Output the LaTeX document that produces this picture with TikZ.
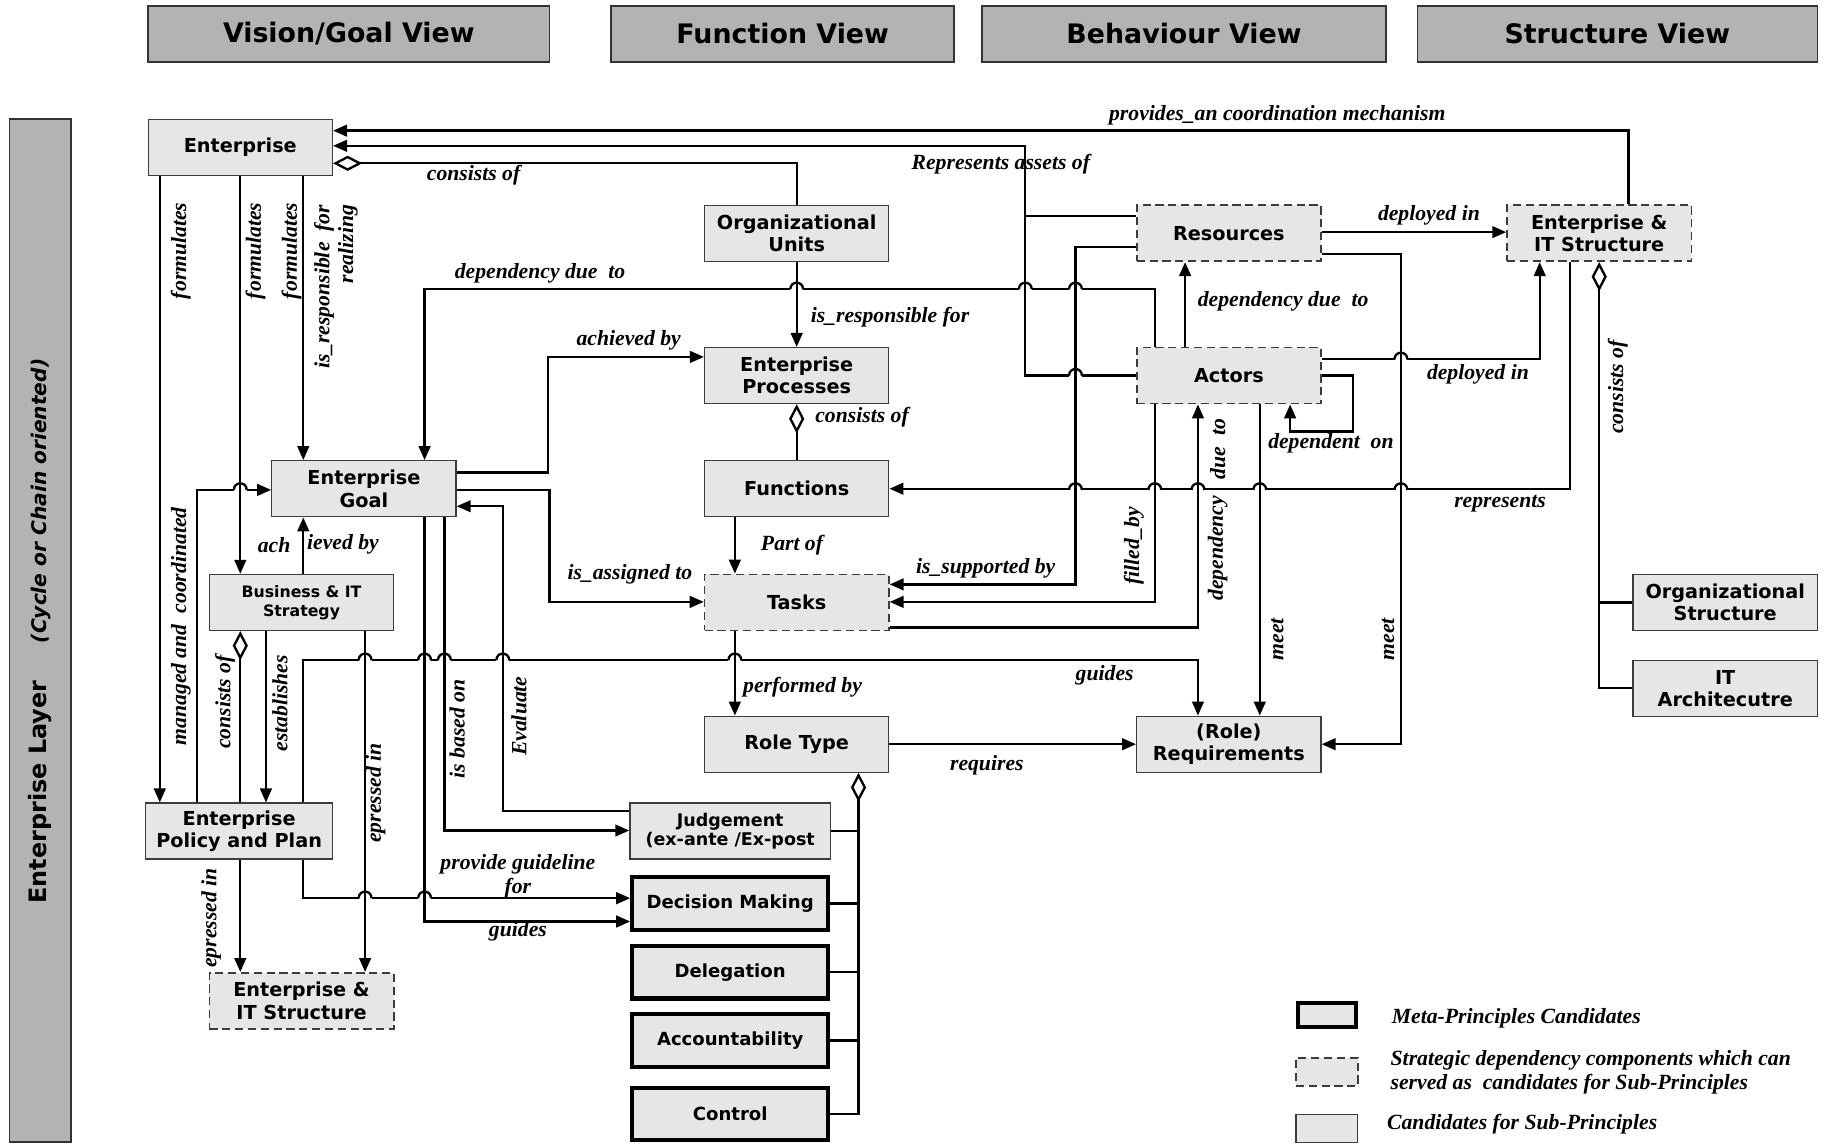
\documentclass[tikz,border=0pt]{standalone}
\usepackage{fontspec}
\setmainfont{Liberation Serif}
\setsansfont{DejaVu Sans}
\usepackage{tikz}
\usetikzlibrary{arrows.meta}
\definecolor{boxGray} {RGB}{230,230,230}
\definecolor{headGray}{RGB}{179,179,179}
\definecolor{edgeGray}{RGB}{60,60,60}

\tikzset{
  box/.style={draw=edgeGray,line width=1.1pt,fill=boxGray,minimum width=158pt,
    minimum height=48pt,inner sep=0pt,align=center,
    font=\sffamily\bfseries\fontsize{16.5}{19}\selectfont},
  dbox/.style={box,dash pattern=on 7pt off 4pt,line width=1.4pt},
  mbox/.style={box,draw=black,line width=3.5pt,minimum width=168pt,minimum height=45pt,
    font=\sffamily\bfseries\fontsize{15.5}{18}\selectfont},
  head/.style={draw=black!80,line width=1.3pt,fill=headGray,minimum height=48pt,
    inner sep=0pt,font=\sffamily\bfseries\fontsize{23}{27}\selectfont},
  lbl/.style={inner sep=0pt,font=\rmfamily\bfseries\itshape\fontsize{18.6}{20.5}\selectfont},
  con/.style={line width=2pt},
  arr/.style={con,-{Triangle[length=12pt,width=10pt]}},
  agg/.style={con,{Diamond[fill=white,length=25pt,width=13pt]}-},
}
% kleine Bruecke, wo eine waagrechte Linie eine senkrechte kreuzt
\newcommand{\linehop}[2]{%
  \fill[white] (#1-5.5,#2-1.7) rectangle (#1+5.5,#2+1.7);
  \draw[con] (#1,#2-4) -- (#1,#2+4);
  \draw[con] (#1-5.5,#2) .. controls (#1-5.5,#2-7.5) and (#1+5.5,#2-7.5) .. (#1+5.5,#2);}

\begin{document}
\begin{tikzpicture}[x=1pt,y=-1pt]
  \useasboundingbox (0,0) rectangle (1568,981);
  % Views
  \node[head,minimum width=344pt] (hvis) at (299,29)    {Vision/Goal View};
  \node[head,minimum width=294pt] (hfun) at (671,29)    {Function View};
  \node[head,minimum width=346pt] (hbeh) at (1015,29)   {Behaviour View};
  \node[head,minimum width=343pt] (hstr) at (1386.5,29) {Structure View};
  % Layer
  \node[draw=black!80,line width=1.3pt,fill=headGray,minimum width=53pt,
        minimum height=877pt] (layer) at (34.5,540.5) {};
  \node[rotate=90,font=\sffamily\bfseries\fontsize{20.5}{24}\selectfont] (layertxt) at (34,541)
    {Enterprise Layer\hspace{32pt}{\itshape\fontsize{17.3}{20}\selectfont(Cycle or Chain oriented)}};

  % Boxes
  \node[box]  (ent)   at (206,126.5)  {Enterprise};
  \node[box]  (orgu)  at (683,200)    {Organizational\\Units};
  \node[dbox] (res)   at (1053.5,200) {Resources};
  \node[dbox] (eits)  at (1371,200)   {Enterprise \&\\IT Structure};
  \node[box]  (proc)  at (683,322)    {Enterprise\\Processes};
  \node[dbox] (act)   at (1053.5,322) {Actors};
  \node[box]  (goal)  at (312,419)    {Enterprise\\Goal};
  \node[box]  (func)  at (683,419)    {Functions};
  \node[box,font=\sffamily\bfseries\fontsize{13.5}{16}\selectfont]
              (strat) at (258.5,516.5) {Business \& IT\\Strategy};
  \node[dbox] (task)  at (683,516.5)  {Tasks};
  \node[box]  (orgs)  at (1479,516.5) {Organizational\\Structure};
  \node[box]  (itar)  at (1479,590)   {IT\\Architecutre};
  \node[box]  (role)  at (683,638)    {Role Type};
  \node[box]  (req)   at (1053.5,638) {(Role)\\Requirements};
  \node[box,minimum width=160pt] (pol) at (205,712.5) {Enterprise\\Policy and Plan};
  \node[box,minimum width=172pt,font=\sffamily\bfseries\fontsize{15}{17}\selectfont]
              (judg)  at (626,712.5)  {Judgement\\(ex-ante /Ex-post};
  \node[mbox] (dec)   at (626,774.5)  {Decision Making};
  \node[mbox] (del)   at (626,833.5)  {Delegation};
  \node[mbox] (acc)   at (626,892)    {Accountability};
  \node[mbox] (ctrl)  at (626,955)    {Control};
  \node[dbox] (eits2) at (258.5,858)  {Enterprise \&\\IT Structure};

  % Connectors
  \draw[arr] (eits.north -| 1396,0) |- (ent.east |- 0,112);
  \draw[arr] (res.west |- 0,185) -| (879,125) -- (ent.east |- 0,125);
  \draw[con] (act.west) -| (879,185);
  \draw[agg] (ent.east |- 0,140) -| (orgu.north);
  \draw[arr] (ent.south -| 137,0) -- (pol.north -| 137,0);
  \draw[arr] (ent.south -| 206,0) -- (strat.north -| 206,0);
  \draw[arr] (ent.south -| 260,0) -- (goal.north -| 260,0);
  \draw[arr] (pol.north -| 169,0) |- (goal.west |- 0,420);
  \draw[arr] (strat.north -| 260,0) -- (goal.south -| 260,0);
  \draw[agg] (strat.south -| 206,0) -- (pol.north -| 206,0);
  \draw[arr] (strat.south -| 228,0) -- (pol.north -| 228,0);
  \draw[arr] (strat.south -| 313,0) -- (eits2.north -| 313,0);
  \draw[arr] (pol.south -| 206,0) -- (eits2.north -| 206,0);
  \draw[arr] (goal.east |- 0,405) -| (470,306) -- (proc.west |- 0,306);
  \draw[arr] (goal.east |- 0,420) -| (471,516) -- (task.west |- 0,516);
  \draw[arr] (judg.west |- 0,695) -| (431,434) -- (goal.east |- 0,434);
  \draw[arr] (goal.south -| 381,0) |- (judg.west |- 0,712);
  \draw[arr] (goal.south -| 364,0) |- (dec.west |- 0,790);
  \draw[arr] (pol.south -| 260,0) |- (dec.west |- 0,770);
  \draw[arr] (pol.north -| 260,0) |- (1027,566) -- (req.north -| 1027,0);
  \draw[arr] (act.north -| 990,0) |- (364,248) -- (goal.north -| 364,0);
  \draw[arr] (orgu) -- (proc);
  \draw[agg] (proc) -- (func);
  \draw[arr] (func.south -| 630,0) -- (task.north -| 630,0);
  \draw[arr] (task.south -| 630,0) -- (role.north -| 630,0);
  \draw[arr] (role) -- (req);
  \draw[agg] (role.south -| 736,0) -- (736,955) -- (ctrl.east |- 0,955);
  \draw[con] (judg.east) -- (judg.east -| 736,0);
  \draw[con] (dec.east) -- (dec.east -| 736,0);
  \draw[con] (del.east) -- (del.east -| 736,0);
  \draw[con] (acc.east) -- (acc.east -| 736,0);
  \draw[arr] (res.east |- 0,199) -- (eits.west |- 0,199);
  \draw[arr] (res.east |- 0,218) -| (1201,638) -- (req.east);
  \draw[arr] (res.west |- 0,212) -| (922,501) -- (task.east |- 0,501);
  \draw[arr] (act.north -| 1016,0) -- (res.south -| 1016,0);
  \draw[arr] (act.east |- 0,308) -| (eits.south -| 1320,0);
  \draw[arr] (act.east |- 0,322) -| (1160,370) -| (act.south -| 1106,0);
  \draw[arr] (act.south -| 990,0) |- (task.east |- 0,516);
  \draw[arr] (task.east |- 0,538) -| (act.south -| 1027,0);
  \draw[arr] (act.south -| 1080,0) -- (req.north -| 1080,0);
  \draw[arr] (eits.south -| 1346,0) |- (func.east);
  \draw[agg] (eits.south -| 1371,0) |- (itar.west);
  \draw[con] (orgs.west) -- (orgs.west -| 1371,0);

  % Bruecken
  \foreach \hx/\hy in {683/248,879/248,922/248,922/322,1201/308,
      922/420,990/420,1027/420,1080/420,1201/420,206/420,
      313/566,364/566,381/566,431/566,630/566,313/770,364/770}
    {\linehop{\hx}{\hy}}

  % Labels
  \node[lbl] (l1)  at (1095,99)  {provides\_an coordination mechanism};
  \node[lbl] (l2)  at (406,150)  {consists of};
  \node[lbl] (l3)  at (858,141)  {Represents assets of};
  \node[lbl] (l4)  at (1225,185) {deployed in};
  \node[lbl] (l5)  at (463,234)  {dependency due\ \ to};
  \node[lbl] (l6)  at (763,272)  {is\_responsible for};
  \node[lbl] (l7)  at (1100,258) {dependency due\ \ to};
  \node[lbl] (l8)  at (539,292)  {achieved by};
  \node[lbl] (l9)  at (1267,321) {deployed in};
  \node[lbl] (l10) at (739,358)  {consists of};
  \node[lbl] (l11) at (1141,380) {dependent\ \ on};
  \node[lbl] (l12) at (1286,432) {represents};
  \node[lbl] (l13) at (679,467)  {Part of};
  \node[lbl] (l14) at (235,467)  {ach};
  \node[lbl] (l15) at (294,467)  {ieved by};
  \node[lbl] (l16) at (540,492)  {is\_assigned to};
  \node[lbl] (l17) at (845,487)  {is\_supported by};
  \node[lbl] (l18) at (688,589)  {performed by};
  \node[lbl] (l19) at (947,579)  {guides};
  \node[lbl] (l20) at (846,656)  {requires};
  \node[lbl,align=center] (l21) at (444,751) {provide guideline\\for};
  \node[lbl] (l22) at (444,798)  {guides};
  % rotated labels
  \node[lbl,rotate=90] (r1)  at (155,215)  {formulates};
  \node[lbl,rotate=90] (r2)  at (219,215)  {formulates};
  \node[lbl,rotate=90] (r3)  at (250,215)  {formulates};
  \node[lbl,rotate=90,align=right] (r4) at (288,246) {is\_responsible\ \ for\\realizing};
  \node[lbl,rotate=90] (r5)  at (155,537)  {managed and\ \ coordinated};
  \node[lbl,rotate=90] (r6)  at (193,602)  {consists of};
  \node[lbl,rotate=90] (r7)  at (240,603)  {establishes};
  \node[lbl,rotate=90] (r8)  at (322,680)  {epressed in};
  \node[lbl,rotate=90] (r9)  at (181,787)  {epressed in};
  \node[lbl,rotate=90] (r10) at (392,625)  {is based on};
  \node[lbl,rotate=90] (r11) at (445,614)  {Evaluate};
  \node[lbl,rotate=90] (r12) at (972,468)  {filled\_by};
  \node[lbl,rotate=90] (r13) at (1044,470) {dependency};
  \node[lbl,rotate=90] (r14) at (1044,385) {due\ \ to};
  \node[lbl,rotate=90] (r15) at (1095,548) {meet};
  \node[lbl,rotate=90] (r16) at (1190,548) {meet};
  \node[lbl,rotate=90] (r17) at (1387,332) {consists of};

  % Legend
  \node[mbox,minimum width=50pt,minimum height=21pt] (lgm) at (1137.5,870) {};
  \node[dbox,minimum width=53pt,minimum height=24pt] (lgd) at (1137.5,919) {};
  \node[box,minimum width=53pt,minimum height=24pt]  (lgc) at (1137.5,967.5) {};
  \node[lbl,anchor=west] (tlgm) at (1193,873) {Meta-Principles Candidates};
  \node[lbl,anchor=west,align=left] (tlgd) at (1192,919)
    {Strategic dependency components which can\\served as\ \ candidates for Sub-Principles};
  \node[lbl,anchor=west] (tlgc) at (1189,964) {Candidates for Sub-Principles};
\end{tikzpicture}
\end{document}
